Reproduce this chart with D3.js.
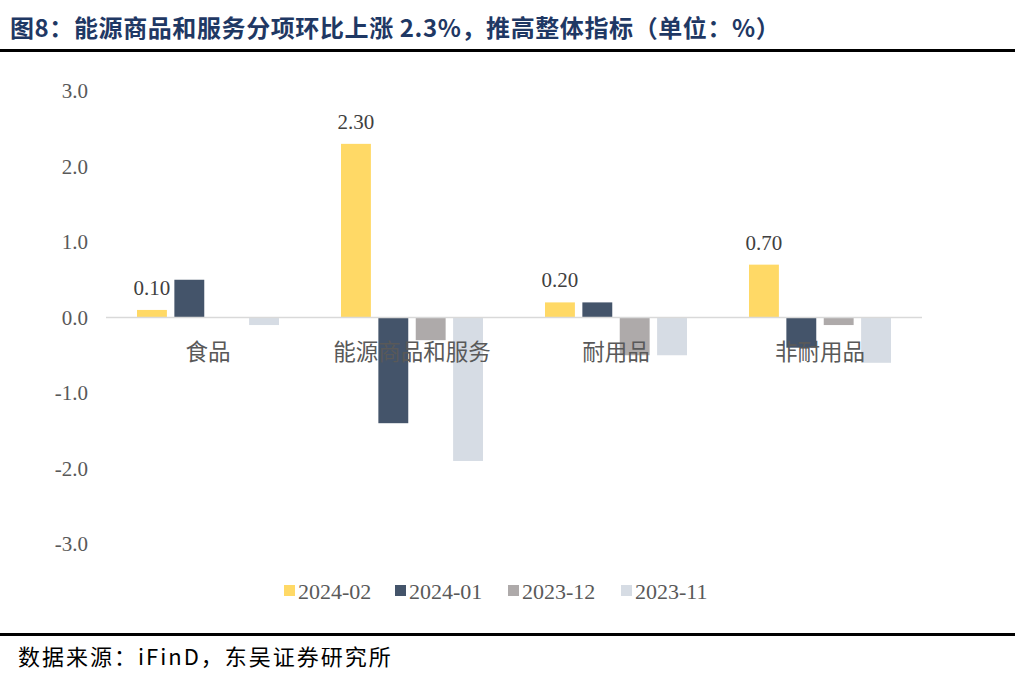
<!DOCTYPE html>
<html>
<head>
<meta charset="utf-8">
<script src="https://cdn.jsdelivr.net/npm/d3@7"></script>
<style>
  body { margin: 0; background: #fff; }
  svg { display: block; }
</style>
</head>
<body>
<div id="chart"></div>
<script>
const width = 1015;
const height = 689;

// data
const categories = ["食品", "能源商品和服务", "耐用品", "非耐用品"];
const seriesNames = ["2024-02", "2024-01", "2023-12", "2023-11"];
const s202402 = [0.1, 2.3, 0.2, 0.7];
const s202401 = [0.5, -1.4, 0.2, -0.4];
const s202312 = [0.0, -0.3, -0.5, -0.1];
const s202311 = [-0.1, -1.9, -0.5, -0.6];
const yTicks = [3, 2, 1, 0, -1, -2, -3];
const colors = ["#FFD966", "#44546A", "#AEAAAA", "#D6DCE4"];

const seriesValues = [s202402, s202401, s202312, s202311];

const svg = d3.select("#chart").append("svg")
    .attr("width", width)
    .attr("height", height);

// title and rules
svg.append("text")
    .attr("x", 10)
    .attr("y", 37)
    .attr("font-family", "'Noto Sans CJK SC', sans-serif")
    .attr("font-weight", "bold")
    .attr("font-size", 24)
    .attr("letter-spacing", 0.6)
    .attr("fill", "#1F3864")
    .text("图8：能源商品和服务分项环比上涨 2.3%，推高整体指标（单位：%）");

svg.append("rect").attr("x", 0).attr("y", 49).attr("width", width).attr("height", 3).attr("fill", "#000");
svg.append("rect").attr("x", 0).attr("y", 633).attr("width", width).attr("height", 3).attr("fill", "#000");

svg.append("text")
    .attr("x", 18)
    .attr("y", 665)
    .attr("font-family", "'Noto Sans CJK SC', sans-serif")
    .attr("font-size", 22)
    .attr("letter-spacing", 2)
    .attr("fill", "#000")
    .text("数据来源：iFinD，东吴证券研究所");

// scales
const x0 = d3.scaleBand()
    .domain(categories)
    .range([106, 922]);

const x1 = d3.scaleBand()
    .domain(seriesNames)
    .range([31, x0.bandwidth() - 31])
    .paddingInner(0.2);

const y = d3.scaleLinear()
    .domain([-3, 3])
    .range([544, 91]);

// y axis labels
svg.append("g")
    .selectAll("text")
    .data(yTicks)
    .enter().append("text")
    .attr("x", 88)
    .attr("y", d => y(d))
    .attr("dy", "0.35em")
    .attr("text-anchor", "end")
    .attr("font-family", "'Liberation Serif', serif")
    .attr("font-size", 21)
    .attr("fill", "#595959")
    .text(d => d.toFixed(1));

// bars
const groups = svg.append("g")
    .selectAll("g")
    .data(categories)
    .enter().append("g")
    .attr("transform", d => `translate(${x0(d)},0)`);

groups.selectAll("rect")
    .data((c, i) => seriesNames.map((s, j) => ({ s: s, v: seriesValues[j][i], j: j })))
    .enter().append("rect")
    .attr("x", d => x1(d.s))
    .attr("y", d => y(Math.max(0, d.v)))
    .attr("width", x1.bandwidth())
    .attr("height", d => Math.abs(y(d.v) - y(0)))
    .attr("fill", d => colors[d.j]);

// zero line
svg.append("line")
    .attr("x1", 106).attr("x2", 922)
    .attr("y1", y(0)).attr("y2", y(0))
    .attr("stroke", "#D9D9D9")
    .attr("stroke-width", 1.5);

// value labels for 2024-02
groups.append("text")
    .attr("x", x1(seriesNames[0]) + x1.bandwidth() / 2)
    .attr("y", (c, i) => y(s202402[i]) - 15)
    .attr("text-anchor", "middle")
    .attr("font-family", "'Liberation Serif', serif")
    .attr("font-size", 21)
    .attr("fill", "#404040")
    .text((c, i) => s202402[i].toFixed(2));

// category labels
svg.append("g")
    .selectAll("text")
    .data(categories)
    .enter().append("text")
    .attr("x", d => x0(d) + x0.bandwidth() / 2)
    .attr("y", 360)
    .attr("text-anchor", "middle")
    .attr("font-family", "'Noto Sans CJK SC', sans-serif")
    .attr("font-size", 22.5)
    .attr("fill", "#595959")
    .text(d => d);

// legend
const legendX = [284, 395, 508, 621];
const legend = svg.append("g")
    .selectAll("g")
    .data(seriesNames)
    .enter().append("g")
    .attr("transform", (d, i) => `translate(${legendX[i]},591)`);

legend.append("rect")
    .attr("x", 0).attr("y", -6)
    .attr("width", 11).attr("height", 11)
    .attr("fill", (d, i) => colors[i]);

legend.append("text")
    .attr("x", 14)
    .attr("y", 0)
    .attr("dy", "0.35em")
    .attr("font-family", "'Liberation Serif', serif")
    .attr("font-size", 22)
    .attr("fill", "#595959")
    .text(d => d);
</script>
</body>
</html>
